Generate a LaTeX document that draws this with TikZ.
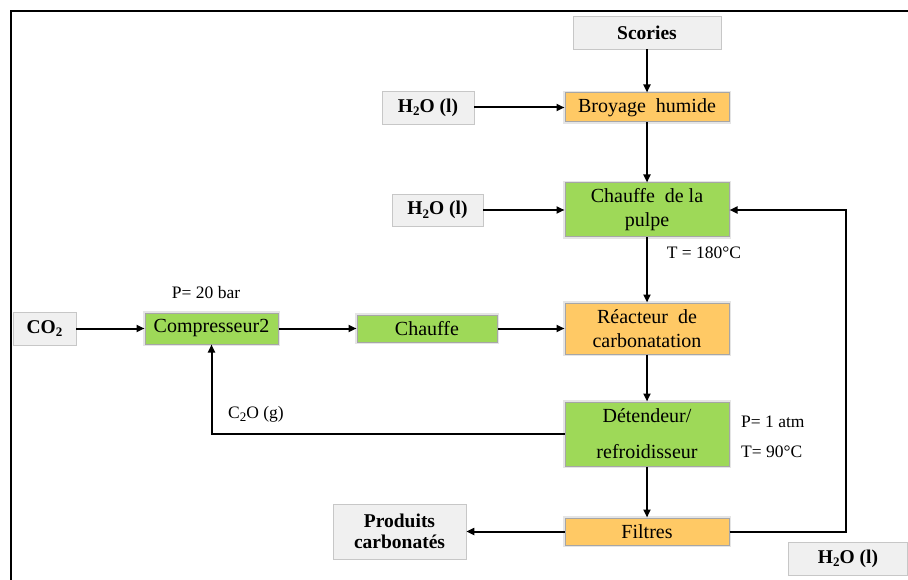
\documentclass[tikz,border=0pt]{standalone}
\usepackage{fontspec}
\setmainfont{Liberation Serif}
\usetikzlibrary{arrows.meta}
\definecolor{orangebox}{HTML}{FFC965}
\definecolor{greenbox}{HTML}{9ED958}
\definecolor{graybox}{HTML}{F0F0F0}
\newcommand\lowsub[1]{\raisebox{-3.5pt}{\fontsize{13}{13}\selectfont #1}}
\begin{document}
\begin{tikzpicture}[x=1pt,y=-1pt,
 proc/.style={draw=black!35, line width=1pt, preaction={draw=black!10, line width=4pt}, inner sep=0pt, align=center, font=\fontsize{20}{24}\selectfont, minimum width=164pt},
 orangeproc/.style={proc, fill=orangebox},
 greenproc/.style={proc, fill=greenbox},
 feed/.style={draw=black!22, fill=graybox, line width=0.8pt, inner sep=0pt, align=center, font=\bfseries\fontsize{19.5}{21}\selectfont},
 lbl/.style={font=\fontsize{17.5}{20}\selectfont, inner sep=0pt},
 flow/.style={line width=2pt, -{Triangle[length=8pt,width=7pt]}},
 frame/.style={line width=2.5pt, line join=miter}
]
\useasboundingbox (0,0) rectangle (908,580);
\draw[frame] (11,580) -- (11,11) -- (908,11);

\node[feed, minimum width=148pt, minimum height=33pt] (scories) at (647,32.5) {Scories};
\node[orangeproc, minimum height=29pt] (broyage) at (647,107.5) {Broyage\ \ humide};
\node[feed, minimum width=92pt, minimum height=33pt] (h2oa) at (428,107.5) {H\lowsub{2}O (l)};
\node[greenproc, minimum height=54pt] (pulpe) at (647,210) {Chauffe\ \ de la\\pulpe};
\node[feed, minimum width=91pt, minimum height=32pt] (h2ob) at (437.5,210) {H\lowsub{2}O (l)};
\node[lbl] (t180) at (704,253) {T = 180°C};
\node[orangeproc, minimum height=51pt] (reacteur) at (647,328.5) {Réacteur\ \ de\\carbonatation};
\node[greenproc, minimum width=140pt, minimum height=27pt] (chauffe) at (427,328.5) {Chauffe};
\node[greenproc, minimum width=133pt, minimum height=31pt] (compr) at (211.5,328.5) {Compresseur2};
\node[feed, minimum width=63pt, minimum height=33pt] (co2) at (44.5,328.5) {CO\lowsub{2}};
\node[lbl] (p20) at (206,293) {P= 20 bar};
\node[lbl] (c2o) at (256,414) {C\lowsub{2}O (g)};
\node[greenproc, minimum height=64pt, font=\fontsize{20}{36}\selectfont] (detendeur) at (647,434) {Détendeur/\\refroidisseur};
\node[lbl, anchor=west] (p1) at (741,422) {P= 1 atm};
\node[lbl, anchor=west] (t90) at (741,452) {T= 90°C};
\node[orangeproc, minimum height=27pt] (filtres) at (647,531.5) {Filtres};
\node[feed, minimum width=133pt, minimum height=55pt] (produits) at (399.5,531.5) {Produits\\carbonatés};
\node[feed, minimum width=119pt, minimum height=33pt] (h2oc) at (848,558.5) {H\lowsub{2}O (l)};
\coordinate (loop) at (846,531.5);

\draw[flow] (scories) -- (broyage);
\draw[flow] (h2oa) -- (broyage);
\draw[flow] (broyage) -- (pulpe);
\draw[flow] (h2ob) -- (pulpe);
\draw[flow] (pulpe) -- (reacteur);
\draw[flow] (co2) -- (compr);
\draw[flow] (compr) -- (chauffe);
\draw[flow] (chauffe) -- (reacteur);
\draw[flow] (reacteur) -- (detendeur);
\draw[flow] (detendeur.west) -| (compr.south);
\draw[flow] (detendeur) -- (filtres);
\draw[flow] (filtres) -- (produits);
\draw[flow] (filtres.east) -- (loop) |- (pulpe.east);
\end{tikzpicture}
\end{document}
